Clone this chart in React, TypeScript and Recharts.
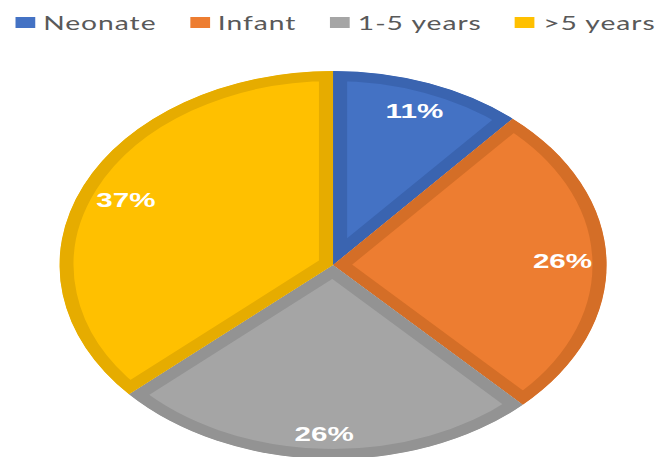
import React from 'react';
import { PieChart, Pie, Cell, Legend, Sector } from 'recharts';

const CATEGORIES = ['Neonate', 'Infant', '1-5 years', '>5 years'];
const VALUES = [11.4, 26.4, 25.6, 36.6];
const FILLS = ['#4472C4', '#ED7D31', '#A5A5A5', '#FFC000'];
const BORDERS = ['#3A64B0', '#D46E27', '#939393', '#E6AC00'];

const data = CATEGORIES.map((name, i) => ({ name, value: VALUES[i] }));

const SX = 1.41;
const W = 664 / SX;
const H = 457;
const RAD = Math.PI / 180;

const ClippedSector = (props: any) => {
  const name = props?.payload?.name ?? props?.name;
  const idx = Math.max(0, CATEGORIES.indexOf(name));
  const id = `clip-sector-${idx}`;
  const geom = {
    cx: props.cx,
    cy: props.cy,
    innerRadius: props.innerRadius,
    outerRadius: props.outerRadius,
    startAngle: props.startAngle,
    endAngle: props.endAngle,
  };
  return (
    <g>
      <defs>
        <clipPath id={id}>
          <Sector {...geom} />
        </clipPath>
      </defs>
      <Sector
        {...geom}
        fill={FILLS[idx]}
        stroke={BORDERS[idx]}
        strokeWidth={20}
        clipPath={`url(#${id})`}
      />
    </g>
  );
};

const renderLabel = (p: any) => {
  const a = -p.midAngle * RAD;
  const halfW = 14;
  const halfH = 8;
  const extent = halfW * Math.abs(Math.cos(a)) + halfH * Math.abs(Math.sin(a));
  const r = p.outerRadius - 17 - extent;
  const x = p.cx + r * Math.cos(a);
  const y = p.cy + r * Math.sin(a);
  return (
    <text
      x={x}
      y={y}
      fill="#FFFFFF"
      textAnchor="middle"
      dominantBaseline="central"
      fontFamily="'Liberation Sans', Arial, sans-serif"
      fontWeight="bold"
      fontSize={21}
    >
      {`${Math.round(p.percent * 100)}%`}
    </text>
  );
};

const renderLegend = (props: any) => {
  const payload = [...(props.payload || [])].sort(
    (a: any, b: any) => CATEGORIES.indexOf(a.value) - CATEGORIES.indexOf(b.value)
  );
  return (
    <div
      style={{
        display: 'flex',
        alignItems: 'center',
        paddingLeft: 10.6,
        height: 44,
        fontFamily: 'Lato, sans-serif',
        fontSize: 20,
        letterSpacing: 0.7,
        color: '#595959',
      }}
    >
      {payload.map((entry: any, i: number) => (
        <div
          key={i}
          style={{ display: 'flex', alignItems: 'center', marginRight: 23.5, whiteSpace: 'nowrap' }}
        >
          <span
            style={{
              display: 'inline-block',
              width: 14,
              height: 11,
              background: FILLS[CATEGORIES.indexOf(entry.value)] ?? entry.color,
              marginRight: 6,
            }}
          />
          <span>{entry.value}</span>
        </div>
      ))}
    </div>
  );
};

export default function App() {
  return (
    <div
      style={{
        position: 'absolute',
        left: 0,
        top: 0,
        width: W,
        height: H,
        transform: `scaleX(${SX})`,
        transformOrigin: '0 0',
        overflow: 'visible',
      }}
    >
      <PieChart width={W} height={H} margin={{ top: 0, right: 0, bottom: 0, left: 0 }}>
        <Legend
          content={renderLegend}
          layout="horizontal"
          verticalAlign="middle"
          align="center"
          wrapperStyle={{ top: 0, left: 0, width: W + 40 }}
        />
        <Pie
          data={data}
          dataKey="value"
          nameKey="name"
          cx={236.2}
          cy={265}
          outerRadius={194}
          startAngle={90}
          endAngle={-270}
          stroke="none"
          shape={ClippedSector}
          label={renderLabel}
          labelLine={false}
          isAnimationActive={false}
        >
          {data.map((d, i) => (
            <Cell key={d.name} fill={FILLS[i]} />
          ))}
        </Pie>
      </PieChart>
    </div>
  );
}
